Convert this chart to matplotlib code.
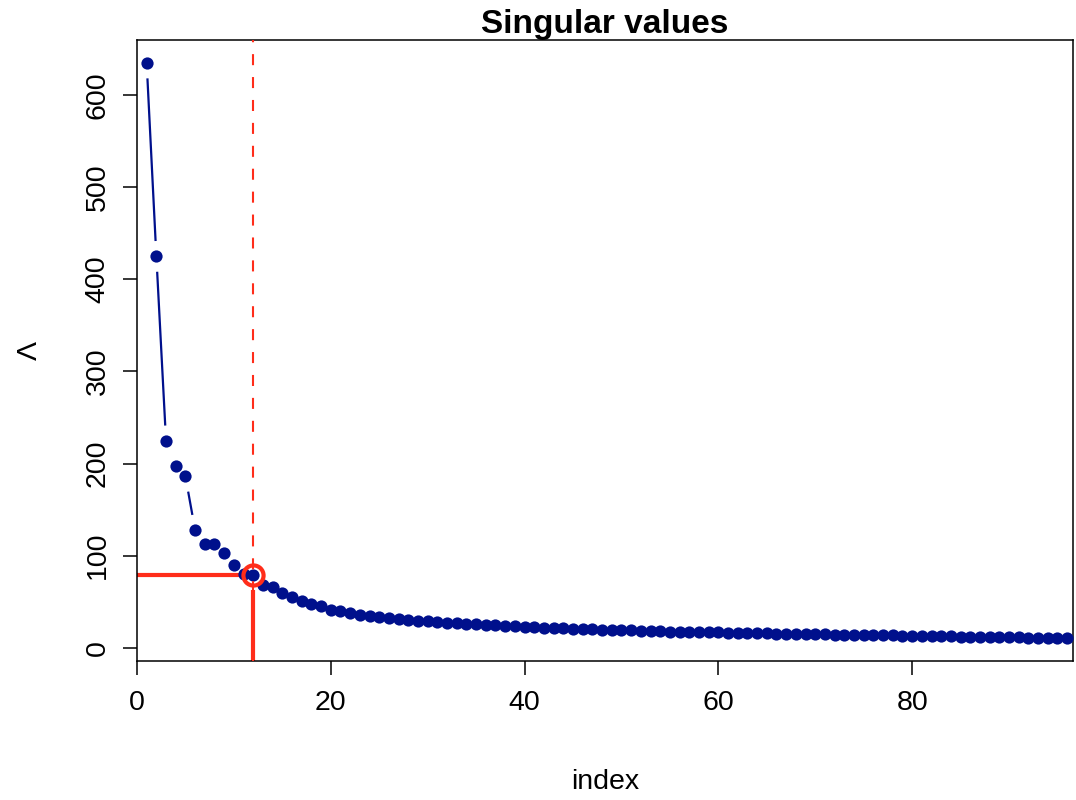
import numpy as np
import matplotlib
matplotlib.use("Agg")
import matplotlib.pyplot as plt

plt.rcParams['font.family'] = ['Liberation Sans', 'DejaVu Sans']

# singular values, largest first
sv = [635, 425, 224.6, 197.5, 186, 127.8, 112.7, 112.5, 103, 90,
      80, 78.5, 68.6, 65.7, 59.2, 55.3, 50.6, 47.7, 45.1, 41.5,
      39.7, 37.9, 35.6, 35.0, 33.2, 32.5, 31.2, 30.3, 29.5, 28.7,
      28.0, 27.3, 26.7, 26.1, 25.5, 25.0, 24.4, 23.9, 23.4, 22.9,
      22.4, 21.9, 21.5, 21.1, 20.7, 20.3, 20.0, 19.7, 19.4, 19.1,
      18.8, 18.5, 18.2, 17.9, 17.6, 17.4, 17.2, 17.0, 16.8, 16.6,
      16.4, 16.2, 16.0, 15.8, 15.6, 15.4, 15.2, 15.0, 14.8, 14.6,
      14.5, 14.3, 14.2, 14.0, 13.8, 13.7, 13.5, 13.4, 13.2, 13.0,
      12.8, 12.7, 12.5, 12.3, 12.2, 12.0, 11.8, 11.7, 11.5, 11.4,
      11.2, 11.1, 10.9, 10.8, 10.7, 10.6]
idx = np.arange(1, len(sv) + 1)
k = 12          # chosen cut-off
stem_top = 63   # solid marker line below the cut-off point

blue = '#00108c'
red = '#ff2d1a'

fig = plt.figure(figsize=(10.76, 8), dpi=100)
ax = fig.add_axes([0.1273, 0.17375, 0.8699, 0.77625])

yr = max(sv) - min(sv)
ax.set_xlim(0, 96.6)
ax.set_ylim(min(sv) - 0.04 * yr, max(sv) + 0.04 * yr)

# R style type="b": line segments with gaps around each point
xy = ax.transData.transform(np.column_stack([idx, sv]))
gap = 16.5
for p0, p1 in zip(xy[:-1], xy[1:]):
    d = p1 - p0
    L = np.hypot(*d)
    if L <= 2 * gap:
        continue
    u = d / L
    seg = ax.transData.inverted().transform([p0 + u * gap, p1 - u * gap])
    ax.plot(seg[:, 0], seg[:, 1], color=blue, lw=1.6, zorder=2)

ax.plot([0, k], [sv[k - 1], sv[k - 1]], color=red, lw=3, zorder=1,
        solid_capstyle='butt')
ax.plot([k, k], [ax.get_ylim()[0], stem_top], color=red, lw=3, zorder=1,
        solid_capstyle='butt')
ax.plot(idx, sv, 'o', color=blue, ms=8.8, mew=0, zorder=3)
ax.plot(k, sv[k - 1], 'o', mfc='none', mec=red, ms=14.5, mew=3, zorder=4)
ax.axvline(k, color=red, lw=1.5, linestyle=(0, (5.3, 5.7)), zorder=5)

ax.set_xticks([0, 20, 40, 60, 80])
ax.set_yticks([0, 100, 200, 300, 400, 500, 600])
ax.tick_params(direction='out', length=10, width=1.1, labelsize=20.5,
               color='black')
ax.tick_params(axis='x', pad=11)
ax.tick_params(axis='y', pad=9)
for lab in ax.get_yticklabels():
    lab.set_rotation(90)
    lab.set_va('center')
for s in ax.spines.values():
    s.set_linewidth(1.1)

ax.set_title('Singular values', fontsize=24, fontweight='bold', pad=1)
ax.set_xlabel('index', fontsize=20.5, labelpad=38)
ax.set_ylabel('Λ', fontsize=20.5, labelpad=30)

fig.savefig('out.png', dpi=100)
